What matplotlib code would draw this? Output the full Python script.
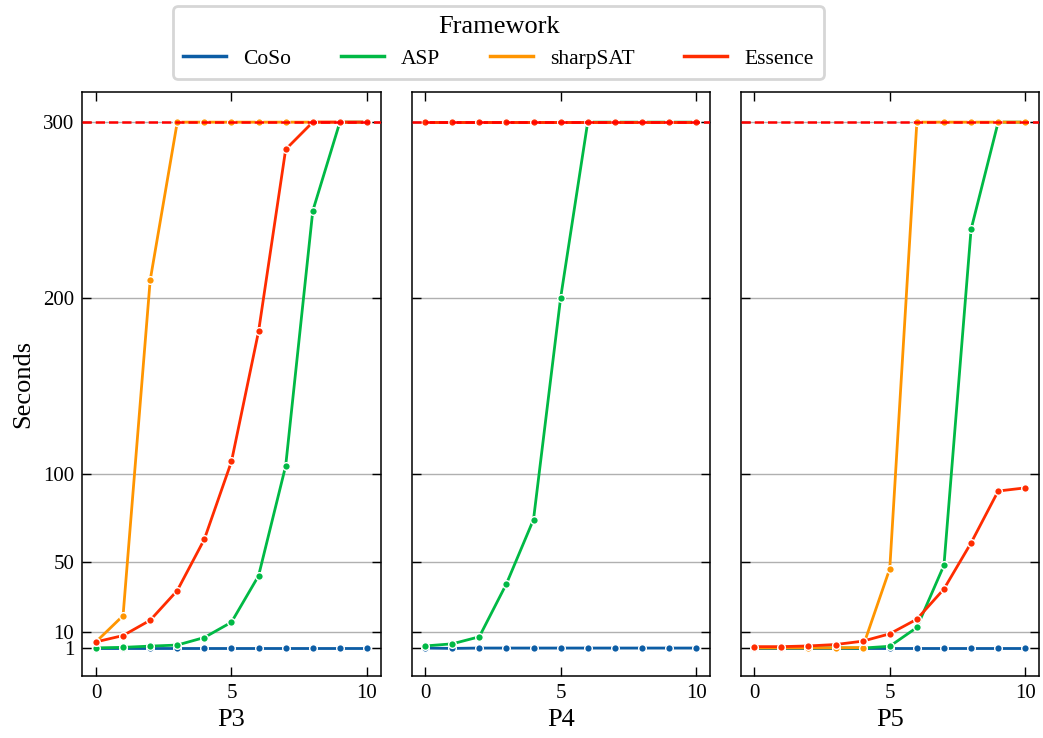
import numpy as np
import matplotlib
matplotlib.use("Agg")
import matplotlib.pyplot as plt

plt.rcParams['font.family'] = ['Liberation Serif', 'DejaVu Serif']
plt.rcParams['mathtext.fontset'] = 'stix'

# -----------------------------
# Data (seconds per problem size)
# -----------------------------
sizes = [0, 1, 2, 3, 4, 5, 6, 7, 8, 9, 10]
panels = ['P3', 'P4', 'P5']
frameworks = ['CoSo', 'ASP', 'sharpSAT', 'Essence']
colors = ['#0C5DA5', '#00B945', '#FF9500', '#FF2C00']
timeout = 300
yticks = [1, 10, 50, 100, 200, 300]

coso_p3 = [0.9, 0.9, 0.9, 0.9, 0.9, 0.9, 0.9, 0.9, 0.9, 0.9, 0.9]
asp_p3 = [1.0, 1.3, 2.0, 2.6, 6.9, 15.6, 42, 104.5, 249.5, 300, 300]
sharpsat_p3 = [4.4, 19.3, 210, 300, 300, 300, 300, 300, 300, 300, 300]
essence_p3 = [4.4, 8.0, 16.7, 33.6, 62.8, 107, 181, 284.5, 300, 300, 300]

coso_p4 = [0.9, 0.7, 0.9, 0.9, 0.9, 0.9, 0.9, 0.9, 0.9, 0.9, 0.9]
asp_p4 = [2.1, 3.3, 7.3, 37.4, 74, 200, 300, 300, 300, 300, 300]
sharpsat_p4 = [300, 300, 300, 300, 300, 300, 300, 300, 300, 300, 300]
essence_p4 = [300, 300, 300, 300, 300, 300, 300, 300, 300, 300, 300]

coso_p5 = [0.9, 0.9, 0.9, 0.9, 0.9, 0.9, 0.9, 0.9, 0.9, 0.9, 0.9]
asp_p5 = [1.0, 1.0, 1.0, 1.0, 0.9, 1.9, 12.6, 48, 239, 300, 300]
sharpsat_p5 = [1.0, 1.0, 1.0, 1.0, 1.2, 46, 300, 300, 300, 300, 300]
essence_p5 = [1.7, 1.7, 2.1, 2.9, 4.8, 9.0, 17.3, 34.5, 60.7, 90.2, 92]

series = {
    'P3': [coso_p3, asp_p3, sharpsat_p3, essence_p3],
    'P4': [coso_p4, asp_p4, sharpsat_p4, essence_p4],
    'P5': [coso_p5, asp_p5, sharpsat_p5, essence_p5],
}

# -----------------------------
# Plot
# -----------------------------
fig, axes = plt.subplots(1, 3, figsize=(10.43, 7.38), dpi=100, sharey=True)
fig.subplots_adjust(left=0.079, right=0.996, top=0.875, bottom=0.084, wspace=0.104)

for ax, panel in zip(axes, panels):
    for name, vals, c in zip(frameworks, series[panel], colors):
        ax.plot(sizes, vals, color=c, lw=2, marker='o', ms=5.5,
                mec='white', mew=1, label=name, zorder=3)
    ax.axhline(timeout, color='red', linestyle='--', lw=1.8, zorder=4)
    ax.set_xlim(-0.5, 10.5)
    ax.set_ylim(-15, 317)
    ax.set_xticks([0, 5, 10])
    ax.set_yticks(yticks)
    ax.yaxis.grid(True, color='#b0b0b0', lw=1, zorder=0)
    ax.tick_params(direction='in', top=True, right=True, length=6.5, width=1,
                   labelsize=15, pad=6)
    ax.set_xlabel(panel, fontsize=19, labelpad=4)
    for s in ax.spines.values():
        s.set_linewidth(1.1)

axes[0].set_ylabel('Seconds', fontsize=19, labelpad=6)
for ax in axes[1:]:
    ax.tick_params(labelleft=False)

handles = [plt.Line2D([], [], color=c, lw=2.5) for c in colors]
leg = fig.legend(handles, frameworks, loc='upper center', bbox_to_anchor=(0.478, 1.0),
                 ncol=4, title='Framework', fontsize=15.5, title_fontsize=19,
                 columnspacing=2.3, handlelength=2.0, handletextpad=0.8,
                 frameon=True, fancybox=True, edgecolor='#cccccc',
                 borderpad=0.45, borderaxespad=0.3)
leg.get_frame().set_linewidth(2)

plt.savefig('out.png', dpi=100)
